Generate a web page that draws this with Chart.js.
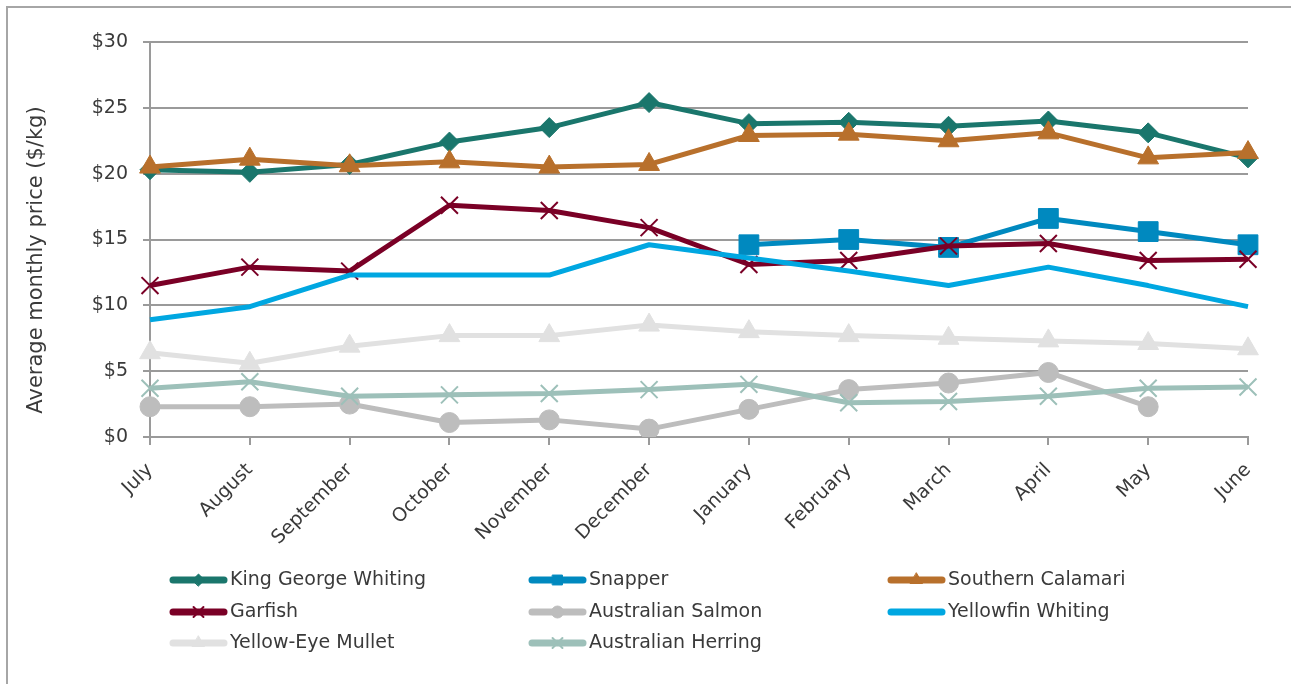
<!DOCTYPE html>
<html>
<head>
<meta charset="utf-8">
<script src="https://cdn.jsdelivr.net/npm/chart.js"></script>
<style>
  html, body { margin: 0; padding: 0; background: #fff; }
  #wrap { width: 1291px; height: 684px; position: relative; }
</style>
</head>
<body>
<div id="wrap"><canvas id="prices"></canvas></div>
<script>
const months = ['July', 'August', 'September', 'October', 'November', 'December',
                'January', 'February', 'March', 'April', 'May', 'June'];

const kingGeorgeWhiting = [20.3, 20.1, 20.7, 22.4, 23.5, 25.4, 23.8, 23.9, 23.6, 24.0, 23.1, 21.2];
const snapper = [null, null, null, null, null, null, 14.6, 15.0, 14.4, 16.6, 15.6, 14.6];
const southernCalamari = [20.5, 21.1, 20.6, 20.9, 20.5, 20.7, 22.9, 23.0, 22.5, 23.1, 21.2, 21.6];
const garfish = [11.5, 12.9, 12.6, 17.6, 17.2, 15.9, 13.1, 13.4, 14.5, 14.7, 13.4, 13.5];
const australianSalmon = [2.3, 2.3, 2.5, 1.1, 1.3, 0.6, 2.1, 3.6, 4.1, 4.9, 2.3, null];
const yellowfinWhiting = [8.9, 9.9, 12.3, 12.3, 12.3, 14.6, 13.6, 12.6, 11.5, 12.9, 11.5, 9.9];
const yellowEyeMullet = [6.4, 5.6, 6.9, 7.7, 7.7, 8.5, 8.0, 7.7, 7.5, 7.3, 7.1, 6.7];
const australianHerring = [3.7, 4.2, 3.1, 3.2, 3.3, 3.6, 4.0, 2.6, 2.7, 3.1, 3.7, 3.8];

const yTitle = 'Average monthly price ($/kg)';
const FONT = '"DejaVu Sans", Verdana, sans-serif';
const TEXT = '#3a3a3a';
const GRID = '#9a9a9a';

function series(label, data, color, style, radius, legendRadius) {
  return {
    label: label,
    data: data,
    borderColor: color,
    backgroundColor: color,
    borderWidth: 5,
    borderJoinStyle: 'round',
    pointStyle: style,
    pointRadius: radius,
    pointHoverRadius: radius,
    pointBorderWidth: (style === 'crossRot') ? 2 : 1,
    pointBackgroundColor: color,
    pointBorderColor: color,
    tension: 0,
    legendRadius: legendRadius
  };
}

const datasets = [
  series('King George Whiting', kingGeorgeWhiting, '#1a766c', 'rectRot', 10, 6),
  series('Snapper', snapper, '#0089bf', 'rect', 14, 7),
  series('Southern Calamari', southernCalamari, '#b8702c', 'triangle', 12, 7),
  series('Garfish', garfish, '#7a0026', 'crossRot', 12, 7),
  series('Australian Salmon', australianSalmon, '#bdbdbd', 'circle', 10, 6),
  series('Yellowfin Whiting', yellowfinWhiting, '#00a7e1', 'circle', 0, 0),
  series('Yellow-Eye Mullet', yellowEyeMullet, '#e1e1e1', 'triangle', 12, 7),
  series('Australian Herring', australianHerring, '#9dc0b9', 'crossRot', 12, 7)
];
// later series sit on top of earlier ones
datasets.forEach((d, i) => { d.order = datasets.length - 1 - i; });

// frame, rotated axis title and the three-column legend
const decorations = {
  id: 'decorations',
  afterDraw(chart) {
    const ctx = chart.ctx;
    ctx.save();
    ctx.strokeStyle = '#a6a6a6';
    ctx.lineWidth = 2;
    ctx.beginPath();
    ctx.moveTo(7, chart.height);
    ctx.lineTo(7, 7);
    ctx.lineTo(chart.width, 7);
    ctx.stroke();

    ctx.save();
    ctx.translate(37, 260);
    ctx.rotate(-Math.PI / 2);
    ctx.font = '21px ' + FONT;
    ctx.fillStyle = TEXT;
    ctx.textAlign = 'center';
    ctx.textBaseline = 'middle';
    ctx.fillText(yTitle, 0, 0);
    ctx.restore();

    const cols = [170, 529, 888];
    const rows = [580, 612, 643];
    const lineLen = 57;
    chart.data.datasets.forEach((ds, i) => {
      const x = cols[i % 3];
      const y = rows[Math.floor(i / 3)];
      ctx.strokeStyle = ds.borderColor;
      ctx.fillStyle = ds.borderColor;
      ctx.lineWidth = 7;
      ctx.lineCap = 'round';
      ctx.beginPath();
      ctx.moveTo(x + 3, y);
      ctx.lineTo(x + lineLen - 3, y);
      ctx.stroke();
      if (ds.legendRadius > 0) {
        ctx.lineWidth = ds.pointStyle === 'crossRot' ? 2 : 1;
        Chart.helpers.drawPoint(ctx, {
          pointStyle: ds.pointStyle,
          radius: ds.legendRadius,
          borderWidth: ctx.lineWidth,
          rotation: 0
        }, x + lineLen / 2, y);
      }
      ctx.font = '19px ' + FONT;
      ctx.fillStyle = TEXT;
      ctx.textAlign = 'left';
      ctx.textBaseline = 'middle';
      ctx.fillText(ds.label, x + lineLen + 3, y);
    });
    ctx.restore();
  }
};

new Chart(document.getElementById('prices'), {
  type: 'line',
  data: { labels: months, datasets: datasets },
  options: {
    responsive: true,
    maintainAspectRatio: false,
    animation: false,
    layout: { padding: { left: 0, right: 43, top: 42, bottom: 0 } },
    plugins: {
      legend: { display: false },
      tooltip: { enabled: false }
    },
    scales: {
      x: {
        offset: false,
        grid: { drawOnChartArea: false, drawTicks: true, tickLength: 8, color: GRID, lineWidth: 2 },
        border: { display: true, color: GRID, width: 2 },
        ticks: {
          autoSkip: false, maxRotation: 45, minRotation: 45, padding: 14,
          color: TEXT, font: { family: FONT, size: 19 }
        },
        afterFit(scale) { scale.height = 247; }
      },
      y: {
        min: 0,
        max: 30,
        grid: { color: GRID, lineWidth: 2, tickLength: 7 },
        border: { display: true, color: GRID, width: 2 },
        ticks: {
          stepSize: 5, padding: 15, color: TEXT,
          font: { family: FONT, size: 19 },
          callback: (v) => '$' + v
        },
        afterFit(scale) { scale.width = 150; }
      }
    }
  },
  plugins: [decorations]
});
</script>
</body>
</html>
